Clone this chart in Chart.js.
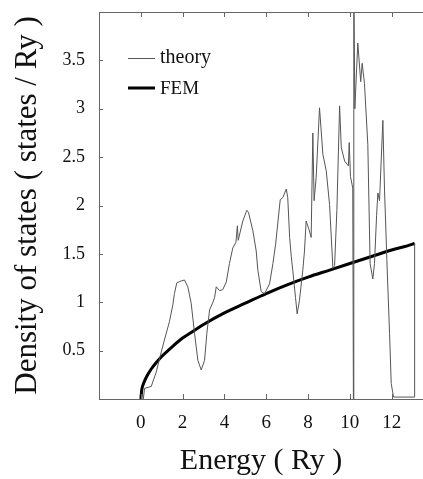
<!DOCTYPE html>
<html><head><meta charset="utf-8">
<script src="https://cdn.jsdelivr.net/npm/chart.js@4/dist/chart.umd.min.js"></script>
<style>html,body{margin:0;padding:0;background:#fff;overflow:hidden}#wrap{position:relative;width:423px;height:479px}</style>
</head><body><div id="wrap"><canvas id="c" width="423" height="479"></canvas></div>
<script>
const seriesNames = ['theory', 'FEM'];
const theoryEnergy = [0.12,0.18,0.5,0.74,0.9,1.13,1.37,1.53,1.61,1.72,1.93,2.09,2.25,2.41,2.57,2.73,2.89,3.05,3.16,3.29,3.45,3.53,3.61,3.77,3.92,4.09,4.24,4.40,4.55,4.62,4.66,4.88,5.07,5.15,5.36,5.52,5.60,5.76,5.92,6.16,6.32,6.45,6.67,6.79,6.96,7.03,7.12,7.20,7.27,7.40,7.48,7.59,7.75,7.83,7.91,8.05,8.15,8.23,8.29,8.39,8.55,8.71,8.87,9.03,9.19,9.27,9.38,9.51,9.59,9.75,9.93,9.97,10.03,10.14,10.17,10.19,10.24,10.38,10.52,10.59,10.70,10.86,10.97,11.10,11.18,11.28,11.34,11.42,11.58,11.66,11.71,11.77,11.90,11.98,12.09,13.1,13.1];
const theoryDos = [0,0.11,0.13,0.28,0.42,0.61,0.80,0.97,1.09,1.20,1.22,1.23,1.16,0.99,0.68,0.40,0.30,0.40,0.68,0.92,1.00,1.05,1.16,1.12,1.13,1.21,1.40,1.56,1.62,1.79,1.64,1.84,1.95,1.93,1.74,1.53,1.33,1.11,1.09,1.19,1.40,1.60,2.06,2.08,2.17,2.08,1.67,1.47,1.33,1.05,0.88,1.02,1.33,1.53,1.84,1.75,1.67,2.75,2.05,2.29,3.01,2.53,2.36,2.01,1.35,1.38,1.95,3.03,2.60,2.46,2.41,2.65,2.30,2.18,0,4.3,3.0,3.68,3.28,3.47,3.26,2.63,1.40,1.24,1.40,1.90,2.13,2.05,2.88,2.15,1.84,1.44,0.68,0.16,0.02,0.02,1.61];
const femEnergy = [0,0.05,0.15,0.3,0.5,0.75,1,1.5,2,2.5,3,4,5,6,7,8,9,10,11,12,13,13.1];
const femDos = [0,0.10,0.17,0.24,0.31,0.38,0.44,0.54,0.63,0.70,0.77,0.89,0.99,1.09,1.18,1.26,1.33,1.40,1.47,1.54,1.60,1.61];
const xTickValues = [0,2,4,6,8,10,12];
const yTickValues = [0.5,1,1.5,2,2.5,3,3.5];
const xTitle = 'Energy ( Ry )';
const yTitle = 'Density of states ( states / Ry )';

const serif = "'Liberation Serif', 'DejaVu Serif', serif";
const toPts = (xs, ys) => xs.map((v, i) => ({x: v, y: ys[i]}));

const framePlugin = {
  id: 'frame',
  afterDatasetsDraw(chart) {
    const {ctx, chartArea: a, scales: {x, y}} = chart;
    ctx.save();
    ctx.strokeStyle = '#666';
    ctx.lineWidth = 1;
    ctx.beginPath();
    ctx.moveTo(a.left, a.top + 0.5); ctx.lineTo(a.right, a.top + 0.5);
    xTickValues.forEach(v => {
      const px = Math.round(x.getPixelForValue(v)) + 0.5;
      ctx.moveTo(px, a.bottom); ctx.lineTo(px, a.bottom - 5);
      ctx.moveTo(px, a.top); ctx.lineTo(px, a.top + 5);
    });
    yTickValues.forEach(v => {
      const py = Math.round(y.getPixelForValue(v)) + 0.5;
      ctx.moveTo(a.left, py); ctx.lineTo(a.left + 4, py);
    });
    ctx.stroke();
    const ds = chart.data.datasets;
    const rows = [{lineY: 58.5, textY: 63, size: 20}, {lineY: 88, textY: 94, size: 19}];
    ds.forEach((d, i) => {
      ctx.beginPath();
      ctx.strokeStyle = d.borderColor;
      ctx.lineWidth = d.borderWidth;
      ctx.moveTo(128, rows[i].lineY); ctx.lineTo(155, rows[i].lineY);
      ctx.stroke();
      ctx.fillStyle = '#111';
      ctx.font = rows[i].size + 'px ' + serif;
      ctx.textBaseline = 'alphabetic';
      ctx.textAlign = 'left';
      ctx.fillText(d.label, 160, rows[i].textY);
    });
    ctx.restore();
  }
};

const zeroPad = s => { s.paddingTop = 0; s.paddingBottom = 0; s.paddingLeft = 0; s.paddingRight = 0; };

new Chart(document.getElementById('c'), {
  type: 'line',
  data: {
    datasets: [
      {label: seriesNames[0], data: toPts(theoryEnergy, theoryDos), borderColor: '#555', borderWidth: 1, pointRadius: 0, tension: 0, fill: false},
      {label: seriesNames[1], data: toPts(femEnergy, femDos), borderColor: '#000', borderWidth: 3, pointRadius: 0, cubicInterpolationMode: 'monotone', fill: false}
    ]
  },
  options: {
    responsive: false,
    animation: false,
    devicePixelRatio: 1,
    layout: {padding: {top: 12, left: 0, right: 0, bottom: 0}},
    plugins: {legend: {display: false}, tooltip: {enabled: false}},
    scales: {
      x: {
        type: 'linear', min: -2, max: 13.5,
        afterBuildTicks: s => { s.ticks = xTickValues.map(v => ({value: v})); },
        afterFit: s => { s.height = 80; zeroPad(s); },
        grid: {display: false, drawTicks: false},
        border: {display: true, color: '#666', width: 1},
        ticks: {color: '#111', font: {family: serif, size: 19}, padding: 13, maxRotation: 0, callback: v => String(v)},
        title: {display: true, text: xTitle, color: '#111', font: {family: serif, size: 30}, padding: {top: 0, bottom: 0}}
      },
      y: {
        type: 'linear', min: 0, max: 4,
        afterBuildTicks: s => { s.ticks = yTickValues.map(v => ({value: v})); },
        afterFit: s => { s.width = 99; zeroPad(s); },
        grid: {display: false, drawTicks: false},
        border: {display: true, color: '#666', width: 1},
        ticks: {color: '#111', font: {family: serif, size: 18}, padding: 14, callback: v => String(v)},
        title: {display: true, text: yTitle, color: '#111', font: {family: serif, size: 31}, padding: {top: 9, bottom: 0}}
      }
    }
  },
  plugins: [framePlugin]
});
</script>
</body></html>
